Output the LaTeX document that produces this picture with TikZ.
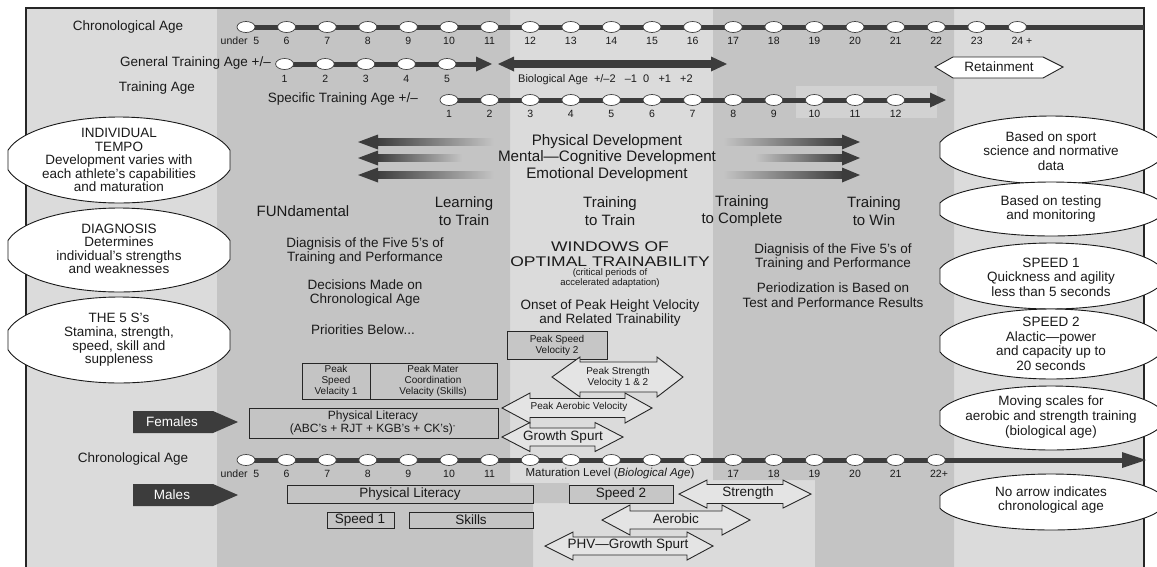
\documentclass[tikz,border=0pt]{standalone}
\usepackage{fontspec}
\setmainfont{Liberation Sans}
\usepackage{graphicx}

\definecolor{lightbg}{HTML}{DBDBDB}
\definecolor{midbg}{HTML}{C4C4C4}
\definecolor{bardark}{HTML}{3C3C3C}
\definecolor{ink}{HTML}{1A1A1A}
\definecolor{arrowfill}{HTML}{E4E4E4}
\definecolor{boxfill}{HTML}{C6C6C6}

\tikzset{
    txt/.style = {font=\fontsize{13.5}{14.5}\selectfont, text=ink, align=center, inner sep=0pt},
    stage/.style = {font=\fontsize{15}{17.5}\selectfont, text=ink, align=center, inner sep=0pt},
    num/.style = {font=\fontsize{10.5}{12}\selectfont, text=ink, inner sep=0pt},
    tiny/.style = {font=\fontsize{10}{11}\selectfont, text=ink, align=center, inner sep=0pt},
    oval/.style = {draw=black!90, fill=white, line width=0.9pt},
    bead/.style = {draw=black!75, fill=white, line width=0.7pt},
    boxed/.style = {draw=black!85, line width=0.9pt},
    twoway/.style = {draw=black!85, fill=arrowfill, line width=0.9pt},
    sex/.style = {fill=bardark},
}

\newcommand{\twoheads}[8]{%
    \filldraw [twoway] (#2, #6) -- (#3, #6-#8) -- (#3, #6-#7) -- (#4, #6-#7) -- (#4, #6-#8) -- (#5, #6) -- (#4, #6+#8) -- (#4, #6+#7) -- (#3, #6+#7) -- (#3, #6+#8) -- cycle;
    \coordinate (#1) at ({(#2+#5)/2}, #6);
}
\newcommand{\sexarrow}[3]{%
    \fill [sex] (133, #2-11) -- (213, #2-11) -- (238, #2) -- (213, #2+11) -- (133, #2+11) -- cycle;
    \node [txt, text=white] (#1) at (172, #2) {#3};
}
\newcommand{\flatoval}[3]{%
    \filldraw [oval] ({#1+111}, {#2+0.228*#3}) arc [start angle=13.2, end angle=166.8, x radius=114, y radius=#3] -- ({#1-111}, {#2-0.228*#3}) arc [start angle=193.2, end angle=346.8, x radius=114, y radius=#3] -- cycle;
}

\begin{document}
\begin{tikzpicture}[x=1pt, y=-1pt]
    \clip (0, 0) rectangle (1157, 566);
    \fill [white] (0, 0) rectangle (1157, 566);
    \fill [lightbg] (26, 8) rectangle (1144, 570);
    \fill [midbg] (217, 8) -- (510, 8) -- (510, 483) -- (569, 483) -- (569, 503) -- (533, 503) -- (533, 570) -- (217, 570) -- cycle;
    \fill [midbg] (713, 8) -- (954, 8) -- (954, 570) -- (815, 570) -- (815, 480) -- (713, 480) -- cycle;
    \fill [lightbg!60!midbg] (796, 86) rectangle (937, 118);
    \draw [black!85, line width=1.4pt] (26, 570) -- (26, 8) -- (1144, 8) -- (1144, 570);

    % chronological age, top
    \node [txt] (chrontop) at (128, 27) {Chronological Age};
    \draw [bardark, line width=5pt] (240, 27) -- (1144, 27);
    \foreach \k in {0, ..., 19}
        \filldraw [bead] ({246 + 40.6*\k}, 27) ellipse [x radius=9, y radius=5.5];
    \node [num] (t0) at (240, 41) {under\ \ 5};
    \foreach \k/\t in {1/6, 2/7, 3/8, 4/9, 5/10, 6/11, 7/12, 8/13, 9/14, 10/15, 11/16, 12/17, 13/18, 14/19, 15/20, 16/21, 17/22, 18/23}
        \node [num] (t\k) at ({246 + 40.6*\k}, 41) {\t};
    \node [num] (t19) at (1022, 41) {24 +};

    % training ages
    \node [txt, anchor=east] (general) at (271, 63) {General Training Age +/–};
    \draw [bardark, line width=5pt] (280, 64) -- (480, 64);
    \fill [bardark] (492, 64) -- (476, 56.5) -- (476, 71.5) -- cycle;
    \foreach \k in {1, ..., 5} {
        \filldraw [bead] ({244 + 40.6*\k}, 64) ellipse [x radius=9, y radius=5.5];
        \node [num] (g\k) at ({244 + 40.6*\k}, 79) {\k};
    }
    \shade [left color=bardark, middle color=lightbg!80!midbg, right color=bardark] (512, 60.5) rectangle (713, 67.5);
    \fill [bardark] (498, 64) -- (514, 56.5) -- (514, 71.5) -- cycle;
    \fill [bardark] (727, 64) -- (711, 56.5) -- (711, 71.5) -- cycle;
    \node [num, anchor=west, font=\fontsize{11}{12}\selectfont] (bioage) at (518, 80) {Biological Age\ \ +/–2\ \ \ –1\ \ 0\ \ \ +1\ \ \ +2};
    \filldraw [twoway, fill=white] (935, 67) -- (953, 57) -- (1043, 57) -- (1063, 67) -- (1043, 78) -- (953, 78) -- cycle;
    \node [txt] (retain) at (999, 67) {Retainment};
    \node [txt] (trainage) at (157, 88) {Training Age};
    \node [txt, anchor=east] (specific) at (418, 99) {Specific Training Age +/–};
    \draw [bardark, line width=5pt] (442, 100) -- (932, 100);
    \fill [bardark] (946, 100) -- (930, 92.5) -- (930, 107.5) -- cycle;
    \foreach \j in {1, ..., 12} {
        \filldraw [bead] ({449 + 40.6*(\j-1)}, 100) ellipse [x radius=9, y radius=5.5];
        \node [num] (s\j) at ({449 + 40.6*(\j-1)}, 114) {\j};
    }

    % development arrows
    \foreach \y/\e in {142/494, 158/462, 175/494} {
        \shade [left color=bardark, right color=midbg] (376, \y-3.5) rectangle (\e, \y+3.5);
        \fill [bardark] (358, \y) -- (378, \y-7.5) -- (378, \y+7.5) -- cycle;
    }
    \foreach \y/\s in {142/723, 158/755, 175/723} {
        \shade [left color=midbg, right color=bardark] (\s, \y-3.5) rectangle (844, \y+3.5);
        \fill [bardark] (860, \y) -- (842, \y-7.5) -- (842, \y+7.5) -- cycle;
    }
    \node [stage, font=\fontsize{15.2}{16.8}\selectfont] (develop) at (607, 158) {Physical Development\\Mental—Cognitive Development\\Emotional Development};

    % stages
    \node [stage] (fun) at (303, 211) {FUNdamental};
    \node [stage] (learn) at (464, 211) {Learning\\to Train};
    \node [stage] (t2t) at (610, 211) {Training\\to Train};
    \node [stage] (t2c) at (742, 211) {Training\\to Complete};
    \node [stage] (t2w) at (874, 211) {Training\\to Win};
    \node [txt] (diagleft) at (365, 251) {Diagnisis of the Five 5’s of\\Training and Performance};
    \node [txt] (decide) at (365, 293) {Decisions Made on\\Chronological Age};
    \node [txt] (prior) at (363, 330) {Priorities Below...};
    \node [txt] (diagright) at (833, 257) {Diagnisis of the Five 5’s of\\Training and Performance};
    \node [txt] (period) at (833, 295) {Periodization is Based on\\Test and Performance Results};
    \node [txt, font=\fontsize{14}{15}\selectfont] (windows) at (610, 247) {\scalebox{1.25}[1]{WINDOWS OF}};
    \node [txt, font=\fontsize{14}{15}\selectfont] (optimal) at (610, 262) {\scalebox{1.25}[1]{OPTIMAL TRAINABILITY}};
    \node [tiny, font=\fontsize{9.5}{10}\selectfont] (critical) at (610, 278) {(critical periods of\\accelerated adaptation)};
    \node [txt] (onset) at (610, 313) {Onset of Peak Height Velocity\\and Related Trainability};

    % females
    \filldraw [boxed, fill=boxfill] (507, 331) rectangle (607, 359);
    \node [tiny] (psv2) at (557, 345) {Peak Speed\\Velocity 2};
    \twoheads{pstr}{552}{580}{657}{683}{377}{15}{20}
    \node [tiny] (pstrtxt) at (618, 377) {Peak Strength\\Velocity 1 \& 2};
    \draw [boxed] (302, 363) rectangle (370, 399);
    \node [tiny] (psv1) at (336, 381) {Peak\\Speed\\Velacity 1};
    \draw [boxed] (370, 363) rectangle (497, 399);
    \node [tiny] (pmcv) at (433, 381) {Peak Mater\\Coordination\\Velacity (Skills)};
    \twoheads{paer}{502}{530}{625}{652}{408}{9.5}{15}
    \node [tiny] (paertxt) at (579, 407) {Peak Aerobic Velocity};
    \twoheads{grow}{502}{530}{595}{623}{437}{9}{14.5}
    \node [txt] (growtxt) at (563, 437) {Growth Spurt};
    \sexarrow{females}{422}{Females}
    \draw [boxed] (249, 408) rectangle (498, 438);
    \node [txt, font=\fontsize{12}{13}\selectfont] (litf) at (373, 423) {Physical Literacy\\(ABC’s + RJT + KGB’s + CK’s)\textsuperscript{-}};

    % chronological age, bottom
    \node [txt] (chronbot) at (133, 459) {Chronological Age};
    \draw [bardark, line width=5pt] (240, 460) -- (1124, 460);
    \fill [bardark] (1146, 460) -- (1122, 452) -- (1122, 468) -- cycle;
    \foreach \k in {0, ..., 17}
        \filldraw [bead] ({246 + 40.6*\k}, 460) ellipse [x radius=9, y radius=5.5];
    \node [num] (b0) at (240, 474) {under\ \ 5};
    \foreach \k/\t in {1/6, 2/7, 3/8, 4/9, 5/10, 6/11, 12/17, 13/18, 14/19, 15/20, 16/21}
        \node [num] (b\k) at ({246 + 40.6*\k}, 474) {\t};
    \node [num] (b17) at (939, 474) {22+};
    \node [num, font=\fontsize{11.5}{12}\selectfont] (matur) at (610, 474) {Maturation Level (\textit{Biological Age})};

    % males
    \sexarrow{males}{495}{Males}
    \draw [boxed] (287, 485) rectangle (533, 503);
    \node [txt] (litm) at (410, 494) {Physical Literacy};
    \filldraw [boxed, fill=boxfill] (569, 485) rectangle (673, 503);
    \node [txt] (speed2) at (621, 494) {Speed 2};
    \twoheads{strength}{679}{707}{783}{811}{494}{9.5}{14}
    \node [txt] (strtxt) at (748, 493) {Strength};
    \draw [boxed] (327, 512) rectangle (394, 528);
    \node [txt] (speed1) at (360, 520) {Speed 1};
    \draw [boxed] (409, 512) rectangle (533, 528);
    \node [txt] (skills) at (471, 520) {Skills};
    \twoheads{aerobic}{602}{630}{722}{750}{520}{9}{15}
    \node [txt] (aertxt) at (676, 519) {Aerobic};
    \twoheads{phv}{545}{573}{687}{713}{546}{9}{14}
    \node [txt] (phvtxt) at (628, 545) {PHV—Growth Spurt};

    % side notes
    \flatoval{119}{160}{43}
    \node [txt, font=\fontsize{13.5}{13.5}\selectfont] (tempo) at (119, 160) {INDIVIDUAL\\TEMPO\\Development varies with\\each athlete’s capabilities\\and maturation};
    \flatoval{119}{250}{42}
    \node [txt, font=\fontsize{13.5}{13.5}\selectfont] (diagnosis) at (119, 249) {DIAGNOSIS\\Determines\\individual’s strengths\\and weaknesses};
    \flatoval{119}{340}{43}
    \node [txt, font=\fontsize{13.5}{13.7}\selectfont] (fives) at (119, 340) {THE 5 S’s\\Stamina, strength,\\speed, skill and\\suppleness};
    \flatoval{1051}{150}{34}
    \node [txt] (sport) at (1051, 151) {Based on sport\\science and normative\\data};
    \flatoval{1051}{209}{27}
    \node [txt] (testing) at (1051, 209) {Based on testing\\and monitoring};
    \flatoval{1051}{276}{33}
    \node [txt] (speedone) at (1051, 277) {SPEED 1\\Quickness and agility\\less than 5 seconds};
    \flatoval{1051}{344}{35}
    \node [txt] (speedtwo) at (1051, 344) {SPEED 2\\Alactic—power\\and capacity up to\\20 seconds};
    \flatoval{1051}{418}{32}
    \node [txt] (moving) at (1051, 417) {Moving scales for\\aerobic and strength training\\(biological age)};
    \flatoval{1051}{502}{28}
    \node [txt] (noarrow) at (1051, 500) {No arrow indicates\\chronological age};
\end{tikzpicture}
\end{document}
